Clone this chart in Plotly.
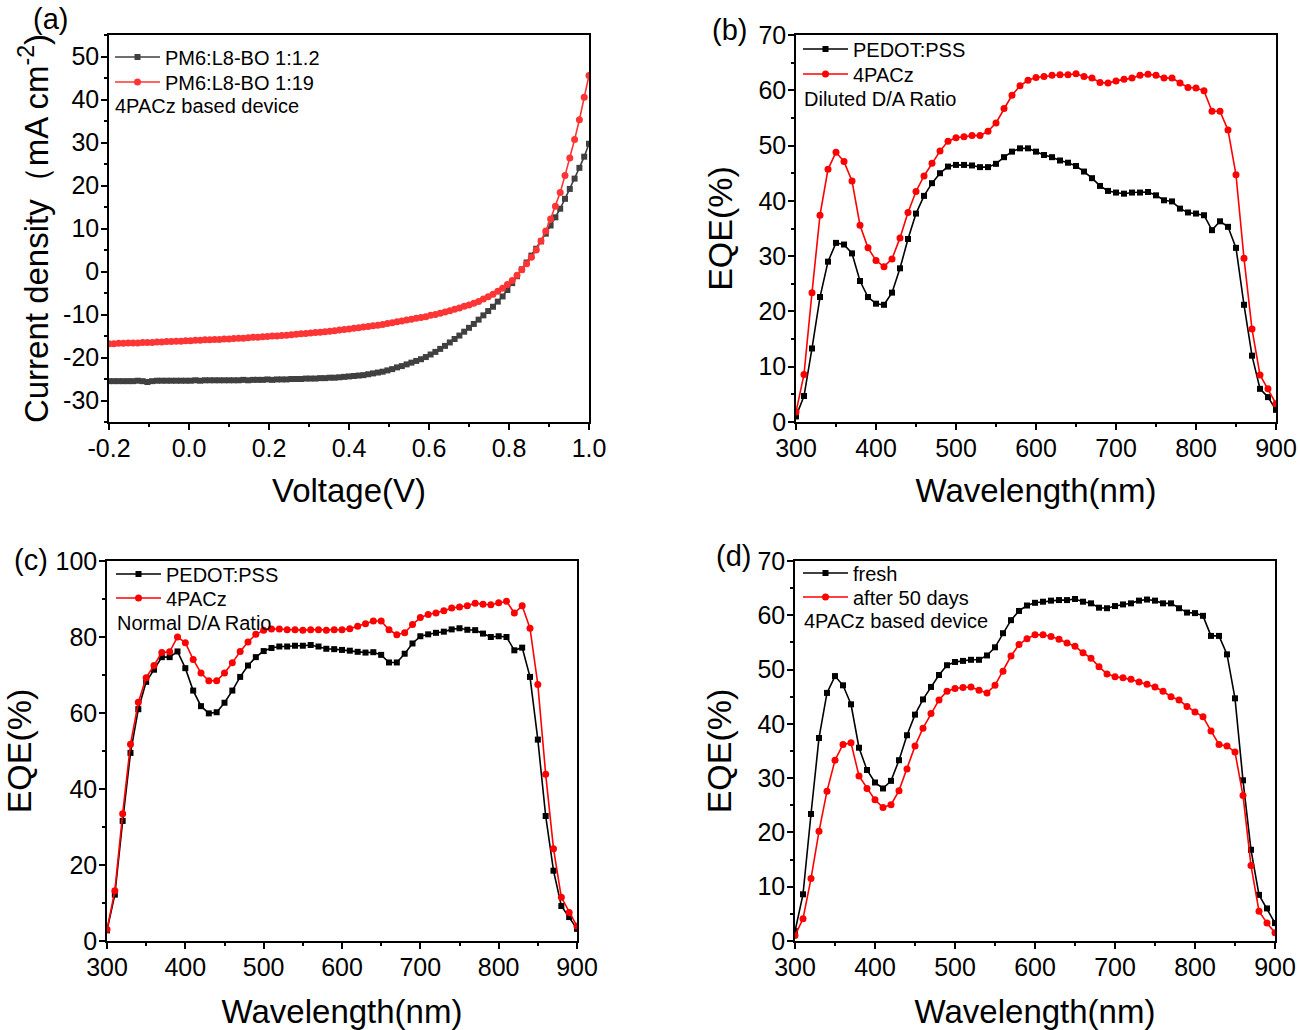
import plotly.graph_objects as go

# ---- data ----
# J-V sweep, -0.2 V to 1.0 V (101 points)
voltage = [round(-0.2 + 0.012 * i, 3) for i in range(101)]

j_1_1p2 = [
    -25.5, -25.5, -25.5, -25.5, -25.5, -25.5, -25.4, -25.5, -25.7, -25.5,
    -25.4, -25.4, -25.4, -25.4, -25.4, -25.4, -25.4, -25.4, -25.3, -25.4,
    -25.3, -25.3, -25.3, -25.3, -25.3, -25.3, -25.3, -25.3, -25.2, -25.3,
    -25.2, -25.2, -25.2, -25.1, -25.2, -25.1, -25.1, -25.1, -25.0, -25.0,
    -25.0, -24.9, -24.9, -24.9, -24.8, -24.8, -24.7, -24.7, -24.6, -24.5,
    -24.4, -24.3, -24.2, -24.1, -23.9, -23.7, -23.5, -23.3, -23.0, -22.7,
    -22.3, -22.0, -21.6, -21.2, -20.8, -20.4, -19.9, -19.3, -18.7, -18.0,
    -17.3, -16.5, -15.7, -14.9, -14.0, -13.1, -12.2, -11.2, -10.2, -9.2,
    -8.2, -7.0, -5.8, -4.3, -2.7, -1.1, 0.5, 2.1, 3.7, 5.3,
    7.0, 8.8, 10.7, 12.6, 14.6, 16.9, 19.2, 21.6, 24.1, 26.7,
    29.7,
]
j_1_19 = [
    -16.8, -16.8, -16.7, -16.7, -16.6, -16.6, -16.6, -16.5, -16.5, -16.5,
    -16.4, -16.4, -16.3, -16.3, -16.2, -16.2, -16.1, -16.1, -16.0, -16.0,
    -15.9, -15.9, -15.8, -15.8, -15.7, -15.7, -15.6, -15.5, -15.5, -15.4,
    -15.3, -15.3, -15.2, -15.1, -15.0, -15.0, -14.9, -14.8, -14.7, -14.6,
    -14.5, -14.4, -14.3, -14.2, -14.1, -14.0, -13.9, -13.8, -13.6, -13.5,
    -13.4, -13.2, -13.1, -12.9, -12.8, -12.6, -12.5, -12.3, -12.1, -11.9,
    -11.7, -11.5, -11.3, -11.1, -10.9, -10.7, -10.5, -10.2, -10.0, -9.7,
    -9.4, -9.1, -8.8, -8.5, -8.1, -7.8, -7.4, -7.0, -6.4, -5.9,
    -5.3, -4.6, -3.9, -3.0, -2.1, -0.9, 0.4, 1.8, 3.3, 5.0,
    7.1, 9.4, 12.2, 15.2, 18.4, 22.3, 26.4, 30.7, 35.3, 40.5,
    45.6,
]
v_ticks = [-0.2, 0.0, 0.2, 0.4, 0.6, 0.8, 1.0]
v_ticktext = ["-0.2", "0.0", "0.2", "0.4", "0.6", "0.8", "1.0"]
j_ticks = [-30, -20, -10, 0, 10, 20, 30, 40, 50]
j_ticktext = ["-30", "-20", "-10", "0", "10", "20", "30", "40", "50"]

# EQE spectra, 300-900 nm in 10 nm steps
wavelength = list(range(300, 901, 10))

eqe_pedot_diluted = [
    1.0, 4.7, 13.3, 22.6, 29.0, 32.4, 32.1, 30.5, 25.5, 22.6,
    21.4, 21.2, 23.4, 27.8, 33.1, 37.7, 40.9, 43.2, 45.0, 46.2,
    46.5, 46.5, 46.4, 46.1, 46.1, 46.7, 47.9, 48.9, 49.5, 49.5,
    48.9, 48.3, 47.9, 47.3, 46.9, 46.3, 45.3, 44.1, 42.7, 41.8,
    41.5, 41.3, 41.5, 41.5, 41.6, 41.0, 40.1, 39.9, 38.6, 37.9,
    37.7, 37.4, 34.7, 36.3, 35.3, 31.5, 21.2, 12.0, 6.0, 4.5,
    2.2,
]
eqe_4pacz_diluted = [
    1.8, 8.6, 23.4, 37.4, 45.7, 48.8, 47.1, 43.6, 35.6, 31.5,
    29.2, 28.1, 29.5, 33.3, 37.9, 41.7, 44.5, 46.8, 49.0, 50.8,
    51.4, 51.6, 51.8, 51.8, 52.6, 54.1, 56.7, 59.1, 60.8, 61.8,
    62.3, 62.5, 62.7, 62.8, 62.8, 63.0, 62.5, 62.2, 61.4, 61.3,
    61.7, 62.0, 62.2, 62.7, 62.9, 62.7, 62.2, 62.2, 61.3, 60.5,
    60.4, 59.9, 56.2, 56.2, 52.8, 44.7, 29.6, 16.8, 8.5, 6.0,
    3.3,
]
eqe_pedot_normal = [
    2.8, 12.2, 31.6, 49.5, 61.0, 68.2, 71.4, 74.7, 74.7, 76.2,
    71.8, 65.9, 61.8, 59.9, 60.2, 62.7, 65.9, 69.5, 72.5, 74.7,
    76.3, 77.1, 77.5, 77.5, 77.7, 77.7, 77.9, 77.5, 76.9, 76.8,
    76.6, 76.4, 76.1, 75.9, 76.0, 75.3, 73.3, 73.3, 75.6, 78.3,
    80.2, 80.7, 81.1, 81.4, 82.0, 82.3, 81.9, 81.8, 80.9, 80.0,
    80.2, 80.0, 76.5, 77.2, 69.5, 53.0, 32.9, 18.5, 9.2, 6.3,
    3.2,
]
eqe_4pacz_normal = [
    3.0, 13.2, 33.5, 51.8, 62.8, 69.3, 72.5, 75.9, 76.1, 80.0,
    78.5, 74.1, 70.5, 68.5, 68.5, 70.5, 73.2, 76.2, 78.7, 80.7,
    81.8, 82.1, 82.1, 81.9, 81.9, 81.8, 81.9, 81.9, 81.8, 81.9,
    81.9, 82.2, 82.8, 83.5, 84.2, 84.2, 81.9, 80.6, 81.1, 83.3,
    85.1, 85.9, 86.3, 86.9, 87.6, 87.9, 88.2, 88.9, 88.6, 88.5,
    89.0, 89.4, 86.3, 88.2, 82.3, 67.5, 43.9, 24.3, 11.5, 7.5,
    3.9,
]
eqe_fresh = eqe_4pacz_diluted
eqe_50days = [
    1.0, 4.1, 11.5, 20.2, 27.6, 33.3, 36.2, 36.5, 30.4, 28.1,
    26.0, 24.6, 25.1, 27.7, 31.7, 35.9, 39.2, 41.9, 44.4, 46.0,
    46.5, 46.7, 46.8, 46.2, 45.7, 47.1, 49.7, 52.5, 54.6, 55.7,
    56.4, 56.4, 56.1, 55.6, 54.9, 54.3, 53.1, 52.1, 50.5, 49.2,
    48.7, 48.5, 48.2, 47.7, 47.3, 46.8, 46.0, 45.0, 44.4, 43.2,
    42.2, 41.3, 38.7, 36.2, 35.9, 34.8, 26.8, 13.9, 5.5, 3.3,
    1.5,
]

FONT = "Arial, Liberation Sans, sans-serif"
W, H = 1300, 1030


def px_x(v):
    return v / W


def px_y(v):
    return 1 - v / H


fig = go.Figure()
legend_layout = {}
n_leg = 0


def add_series(x, y, name, color, symbol, xa, ya, size, leg_x, leg_y):
    # one legend per entry so each entry sits where the original has it
    global n_leg
    n_leg += 1
    key = "legend" if n_leg == 1 else f"legend{n_leg}"
    fig.add_trace(go.Scatter(
        x=x, y=y, name=name, mode="lines+markers",
        line=dict(color=color, width=1.6),
        marker=dict(symbol=symbol, size=size, color=color),
        xaxis=xa, yaxis=ya, legend=key, showlegend=True,
    ))
    legend_layout[key] = dict(
        x=px_x(leg_x), y=px_y(leg_y), xanchor="left", yanchor="middle",
        bgcolor="rgba(0,0,0,0)", itemwidth=45,
        font=dict(family=FONT, size=20, color="black"),
    )


# (a) J-V
add_series(voltage, j_1_1p2, "PM6:L8-BO 1:1.2", "#404040", "square", "x", "y", 6, 110, 57)
add_series(voltage, j_1_19, "PM6:L8-BO 1:19", "#ff3535", "circle", "x", "y", 7, 110, 82)
# (b) diluted
add_series(wavelength, eqe_pedot_diluted, "PEDOT:PSS", "black", "square", "x2", "y2", 6, 798, 49)
add_series(wavelength, eqe_4pacz_diluted, "4PACz", "#ff0000", "circle", "x2", "y2", 7, 798, 74)
# (c) normal
add_series(wavelength, eqe_pedot_normal, "PEDOT:PSS", "black", "square", "x3", "y3", 6, 111, 574)
add_series(wavelength, eqe_4pacz_normal, "4PACz", "#ff0000", "circle", "x3", "y3", 7, 111, 598)
# (d) stability
add_series(wavelength, eqe_fresh, "fresh", "black", "square", "x4", "y4", 6, 798, 573)
add_series(wavelength, eqe_50days, "after 50 days", "#ff0000", "circle", "x4", "y4", 7, 798, 597)


def axis(domain, rng, dtick, minor_dtick, title, anchor, standoff, title_size=33):
    return dict(
        domain=domain, range=rng, dtick=dtick, tick0=0, anchor=anchor,
        automargin=False, ticklabeloverflow="allow",
        showline=True, linecolor="black", linewidth=1.5, mirror=True,
        ticks="outside", ticklen=6, tickwidth=1.5, tickcolor="black",
        ticklabelstandoff=-3,
        showgrid=False, zeroline=False,
        tickfont=dict(family=FONT, size=25, color="black"),
        minor=dict(ticks="outside", ticklen=3, tickwidth=1.5, tickcolor="black", dtick=minor_dtick),
        title=dict(text=title, font=dict(family=FONT, size=title_size, color="black"), standoff=standoff),
    )


top = [px_y(422), px_y(35)]
bottom = [px_y(941), px_y(561)]

xa = axis([px_x(109), px_x(589)], [-0.2, 1.0], 0.2, 0.1, "Voltage(V)", "y", 18)
xa.update(tickmode="array", tickvals=v_ticks, ticktext=v_ticktext)
ya = axis(top, [-35, 55], 10, 5, "Current density（mA cm<sup>-2</sup>)", "x", 5)
ya.update(tickmode="array", tickvals=j_ticks, ticktext=j_ticktext)

fig.update_layout(
    width=W, height=H,
    margin=dict(l=0, r=0, t=0, b=0),
    paper_bgcolor="white", plot_bgcolor="white",
    font=dict(family=FONT, color="black"),
    showlegend=True,
    xaxis=xa,
    yaxis=ya,
    xaxis2=axis([px_x(796), px_x(1276)], [300, 900], 100, 50, "Wavelength(nm)", "y2", 18),
    yaxis2=axis(top, [0, 70], 10, 5, "EQE(%)", "x2", 16, 34),
    xaxis3=axis([px_x(107), px_x(577)], [300, 900], 100, 50, "Wavelength(nm)", "y3", 21),
    yaxis3=axis(bottom, [0, 100], 20, 10, "EQE(%)", "x3", 26, 34),
    xaxis4=axis([px_x(795), px_x(1275)], [300, 900], 100, 50, "Wavelength(nm)", "y4", 21),
    yaxis4=axis(bottom, [0, 70], 10, 5, "EQE(%)", "x4", 16, 34),
    **legend_layout,
)

notes = [
    ("4PACz based device", 113, 106),
    ("Diluted D/A Ratio", 802, 99),
    ("Normal D/A Ratio", 115, 623),
    ("4PACz based device", 802, 621),
]
for text, x, y in notes:
    fig.add_annotation(text=text, x=px_x(x), y=px_y(y), xref="paper", yref="paper",
                       xanchor="left", yanchor="middle", showarrow=False,
                       font=dict(family=FONT, size=20, color="black"))

labels = [("(a)", 50, 19), ("(b)", 729, 30), ("(c)", 31, 560), ("(d)", 733, 556)]
for text, x, y in labels:
    fig.add_annotation(text=text, x=px_x(x), y=px_y(y), xref="paper", yref="paper",
                       xanchor="center", yanchor="middle", showarrow=False,
                       font=dict(family=FONT, size=29, color="black"))

# the page body margin would push the figure 8 px in; drop it so the figure fills the window
fig.write_html("out.html", config={"displayModeBar": False},
               post_script="document.body.style.margin='0';")
